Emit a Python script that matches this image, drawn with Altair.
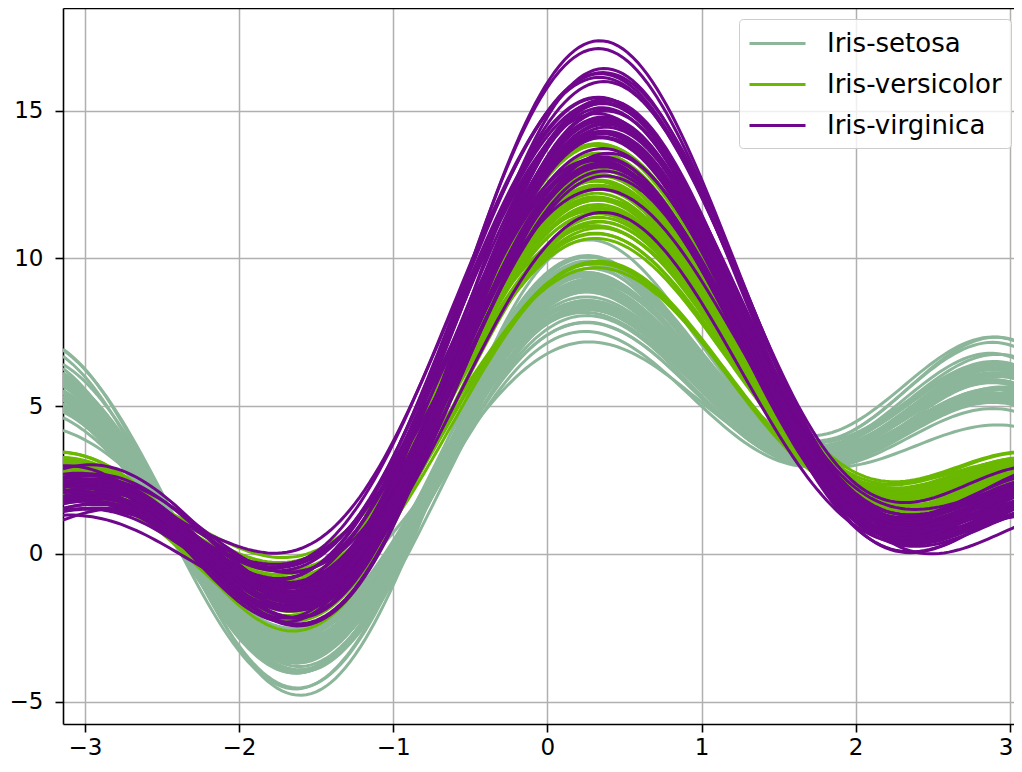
import math
import numpy as np
import pandas as pd
import altair as alt

species_names = ["Iris-setosa", "Iris-versicolor", "Iris-virginica"]

sepal_length = [
    5.1, 4.9, 4.7, 4.6, 5.0, 5.4, 4.6, 5.0, 4.4, 4.9, 5.4, 4.8, 4.8, 4.3, 5.8, 5.7, 5.4, 5.1, 5.7, 5.1,
    5.4, 5.1, 4.6, 5.1, 4.8, 5.0, 5.0, 5.2, 5.2, 4.7, 4.8, 5.4, 5.2, 5.5, 4.9, 5.0, 5.5, 4.9, 4.4, 5.1,
    5.0, 4.5, 4.4, 5.0, 5.1, 4.8, 5.1, 4.6, 5.3, 5.0,
    7.0, 6.4, 6.9, 5.5, 6.5, 5.7, 6.3, 4.9, 6.6, 5.2, 5.0, 5.9, 6.0, 6.1, 5.6, 6.7, 5.6, 5.8, 6.2, 5.6,
    5.9, 6.1, 6.3, 6.1, 6.4, 6.6, 6.8, 6.7, 6.0, 5.7, 5.5, 5.5, 5.8, 6.0, 5.4, 6.0, 6.7, 6.3, 5.6, 5.5,
    5.5, 6.1, 5.8, 5.0, 5.6, 5.7, 5.7, 6.2, 5.1, 5.7,
    6.3, 5.8, 7.1, 6.3, 6.5, 7.6, 4.9, 7.3, 6.7, 7.2, 6.5, 6.4, 6.8, 5.7, 5.8, 6.4, 6.5, 7.7, 7.7, 6.0,
    6.9, 5.6, 7.7, 6.3, 6.7, 7.2, 6.2, 6.1, 6.4, 7.2, 7.4, 7.9, 6.4, 6.3, 6.1, 7.7, 6.3, 6.4, 6.0, 6.9,
    6.7, 6.9, 5.8, 6.8, 6.7, 6.7, 6.3, 6.5, 6.2, 5.9,
]
sepal_width = [
    3.5, 3.0, 3.2, 3.1, 3.6, 3.9, 3.4, 3.4, 2.9, 3.1, 3.7, 3.4, 3.0, 3.0, 4.0, 4.4, 3.9, 3.5, 3.8, 3.8,
    3.4, 3.7, 3.6, 3.3, 3.4, 3.0, 3.4, 3.5, 3.4, 3.2, 3.1, 3.4, 4.1, 4.2, 3.1, 3.2, 3.5, 3.1, 3.0, 3.4,
    3.5, 2.3, 3.2, 3.5, 3.8, 3.0, 3.8, 3.2, 3.7, 3.3,
    3.2, 3.2, 3.1, 2.3, 2.8, 2.8, 3.3, 2.4, 2.9, 2.7, 2.0, 3.0, 2.2, 2.9, 2.9, 3.1, 3.0, 2.7, 2.2, 2.5,
    3.2, 2.8, 2.5, 2.8, 2.9, 3.0, 2.8, 3.0, 2.9, 2.6, 2.4, 2.4, 2.7, 2.7, 3.0, 3.4, 3.1, 2.3, 3.0, 2.5,
    2.6, 3.0, 2.6, 2.3, 2.7, 3.0, 2.9, 2.9, 2.5, 2.8,
    3.3, 2.7, 3.0, 2.9, 3.0, 3.0, 2.5, 2.9, 2.5, 3.6, 3.2, 2.7, 3.0, 2.5, 2.8, 3.2, 3.0, 3.8, 2.6, 2.2,
    3.2, 2.8, 2.8, 2.7, 3.3, 3.2, 2.8, 3.0, 2.8, 3.0, 2.8, 3.8, 2.8, 2.8, 2.6, 3.0, 3.4, 3.1, 3.0, 3.1,
    3.1, 3.1, 2.7, 3.2, 3.3, 3.0, 2.5, 3.0, 3.4, 3.0,
]
petal_length = [
    1.4, 1.4, 1.3, 1.5, 1.4, 1.7, 1.4, 1.5, 1.4, 1.5, 1.5, 1.6, 1.4, 1.1, 1.2, 1.5, 1.3, 1.4, 1.7, 1.5,
    1.7, 1.5, 1.0, 1.7, 1.9, 1.6, 1.6, 1.5, 1.4, 1.6, 1.6, 1.5, 1.5, 1.4, 1.5, 1.2, 1.3, 1.5, 1.3, 1.5,
    1.3, 1.3, 1.3, 1.6, 1.9, 1.4, 1.6, 1.4, 1.5, 1.4,
    4.7, 4.5, 4.9, 4.0, 4.6, 4.5, 4.7, 3.3, 4.6, 3.9, 3.5, 4.2, 4.0, 4.7, 3.6, 4.4, 4.5, 4.1, 4.5, 3.9,
    4.8, 4.0, 4.9, 4.7, 4.3, 4.4, 4.8, 5.0, 4.5, 3.5, 3.8, 3.7, 3.9, 5.1, 4.5, 4.5, 4.7, 4.4, 4.1, 4.0,
    4.4, 4.6, 4.0, 3.3, 4.2, 4.2, 4.2, 4.3, 3.0, 4.1,
    6.0, 5.1, 5.9, 5.6, 5.8, 6.6, 4.5, 6.3, 5.8, 6.1, 5.1, 5.3, 5.5, 5.0, 5.1, 5.3, 5.5, 6.7, 6.9, 5.0,
    5.7, 4.9, 6.7, 4.9, 5.7, 6.0, 4.8, 4.9, 5.6, 5.8, 6.1, 6.4, 5.6, 5.1, 5.6, 6.1, 5.6, 5.5, 4.8, 5.4,
    5.6, 5.1, 5.1, 5.9, 5.7, 5.2, 5.0, 5.2, 5.4, 5.1,
]
petal_width = [
    0.2, 0.2, 0.2, 0.2, 0.2, 0.4, 0.3, 0.2, 0.2, 0.1, 0.2, 0.2, 0.1, 0.1, 0.2, 0.4, 0.4, 0.3, 0.3, 0.3,
    0.2, 0.4, 0.2, 0.5, 0.2, 0.2, 0.4, 0.2, 0.2, 0.2, 0.2, 0.4, 0.1, 0.2, 0.1, 0.2, 0.2, 0.1, 0.2, 0.2,
    0.3, 0.3, 0.2, 0.6, 0.4, 0.3, 0.2, 0.2, 0.2, 0.2,
    1.4, 1.5, 1.5, 1.3, 1.5, 1.3, 1.6, 1.0, 1.3, 1.4, 1.0, 1.5, 1.0, 1.4, 1.3, 1.4, 1.5, 1.0, 1.5, 1.1,
    1.8, 1.3, 1.5, 1.2, 1.3, 1.4, 1.4, 1.7, 1.5, 1.0, 1.1, 1.0, 1.2, 1.6, 1.5, 1.6, 1.5, 1.3, 1.3, 1.3,
    1.2, 1.4, 1.2, 1.0, 1.3, 1.2, 1.3, 1.3, 1.1, 1.3,
    2.5, 1.9, 2.1, 1.8, 2.2, 2.1, 1.7, 1.8, 1.8, 2.5, 2.0, 1.9, 2.1, 2.0, 2.4, 2.3, 1.8, 2.2, 2.3, 1.5,
    2.3, 2.0, 2.0, 1.8, 2.1, 1.8, 1.8, 1.8, 2.1, 1.6, 1.9, 2.0, 2.2, 1.5, 1.4, 2.3, 2.4, 1.8, 1.8, 2.1,
    2.4, 2.3, 1.9, 2.3, 2.5, 2.3, 1.9, 2.0, 2.3, 1.8,
]
species = [species_names[0]] * 50 + [species_names[1]] * 50 + [species_names[2]] * 50

colors = ["#8cb69a", "#6ab800", "#6f078c"]
x_ticks = [-3, -2, -1, 0, 1, 2, 3]
y_ticks = [-5, 0, 5, 10, 15]
n_samples = 200

# plot geometry (the reference is a crop of a wider figure)
PLOT_W, PLOT_H = 951, 716
PX_PER_X = 154.17
x_domain = [-math.pi, -math.pi + PLOT_W / PX_PER_X]

df = pd.DataFrame({
    "row": list(range(len(species))),
    "sl": sepal_length, "sw": sepal_width, "pl": petal_length, "pw": petal_width,
    "Name": species,
})

# y range like matplotlib autoscale (5% margins) over the Andrews curves,
# at the reference's 720 px height; the picture keeps the top PLOT_H px of it
t = np.linspace(-np.pi, np.pi, n_samples)
a = df[["sl", "sw", "pl", "pw"]].to_numpy()
curves = (a[:, [0]] / np.sqrt(2) + a[:, [1]] * np.sin(t) + a[:, [2]] * np.cos(t)
          + a[:, [3]] * np.sin(2 * t) + a[:, [1]] * np.cos(2 * t))
lo, hi = curves.min(), curves.max()
pad = 0.05 * (hi - lo)
y_top = float(hi + pad)
px_per_y = 720 / ((hi + pad) - (lo - pad))
y_domain = [y_top - PLOT_H / px_per_y, y_top]

step = 2 * math.pi / (n_samples - 1)
top_test = f"datum.value > {y_ticks[-1] + 1}"
last_x_test = f"datum.value == {x_ticks[-1]}"

chart = (
    alt.Chart(df)
    .transform_calculate(idx=f"sequence(0, {n_samples})")
    .transform_flatten(["idx"])
    .transform_calculate(t=f"-PI + datum.idx * {step}")
    .transform_calculate(
        f="datum.sl / sqrt(2) + datum.sw * sin(datum.t) + datum.pl * cos(datum.t)"
          " + datum.pw * sin(2 * datum.t) + datum.sw * cos(2 * datum.t)"
    )
    .mark_line(strokeWidth=3, clip=True)
    .encode(
        x=alt.X("t:Q", scale=alt.Scale(domain=x_domain, nice=False, zero=False),
                axis=alt.Axis(values=x_ticks, title=None, format="d", labelPadding=4,
                              labelAlign={"condition": {"test": last_x_test, "value": "right"},
                                          "value": "center"},
                              labelOffset={"condition": {"test": last_x_test, "value": 3},
                                           "value": 0})),
        y=alt.Y("f:Q", scale=alt.Scale(domain=y_domain, nice=False, zero=False),
                axis=alt.Axis(values=y_ticks + [y_top], title=None, format="d", labelPadding=12,
                              labelExpr=f"{top_test} ? '' : datum.label",
                              tickOpacity={"condition": {"test": top_test, "value": 0}, "value": 1},
                              gridColor={"condition": {"test": top_test, "value": "#000000"},
                                         "value": "#b0b0b0"},
                              gridWidth={"condition": {"test": top_test, "value": 1.6},
                                         "value": 1.5})),
        color=alt.Color("Name:N",
                        scale=alt.Scale(domain=species_names, range=colors),
                        legend=alt.Legend(
                            title=None, orient="none", legendX=676, legendY=11,
                            symbolType="M-2,0H2", symbolSize=784, symbolStrokeWidth=3,
                            symbolOffset=14,
                            labelFontSize=26, labelFont="DejaVu Sans", labelColor="#000000",
                            labelOffset=34, labelLimit=400, rowPadding=12,
                            fillColor="rgba(255,255,255,0.8)", strokeColor="#cccccc",
                            cornerRadius=4, padding=9,
                        )),
        detail="row:N",
    )
    .properties(width=PLOT_W, height=PLOT_H,
                autosize=alt.AutoSizeParams(type="none"),
                padding={"left": 55, "top": 0, "right": 0, "bottom": 40})
    .configure_view(stroke=None)
    .configure_axis(
        grid=True, gridColor="#b0b0b0", gridWidth=1.5,
        domain=True, domainColor="#000000", domainWidth=1.6,
        tickColor="#000000", tickWidth=1.6, tickSize=8,
        labelFont="DejaVu Sans", labelFontSize=23, labelColor="#000000",
    )
)

chart.save("out.html", embed_options={"renderer": "svg", "actions": False})
